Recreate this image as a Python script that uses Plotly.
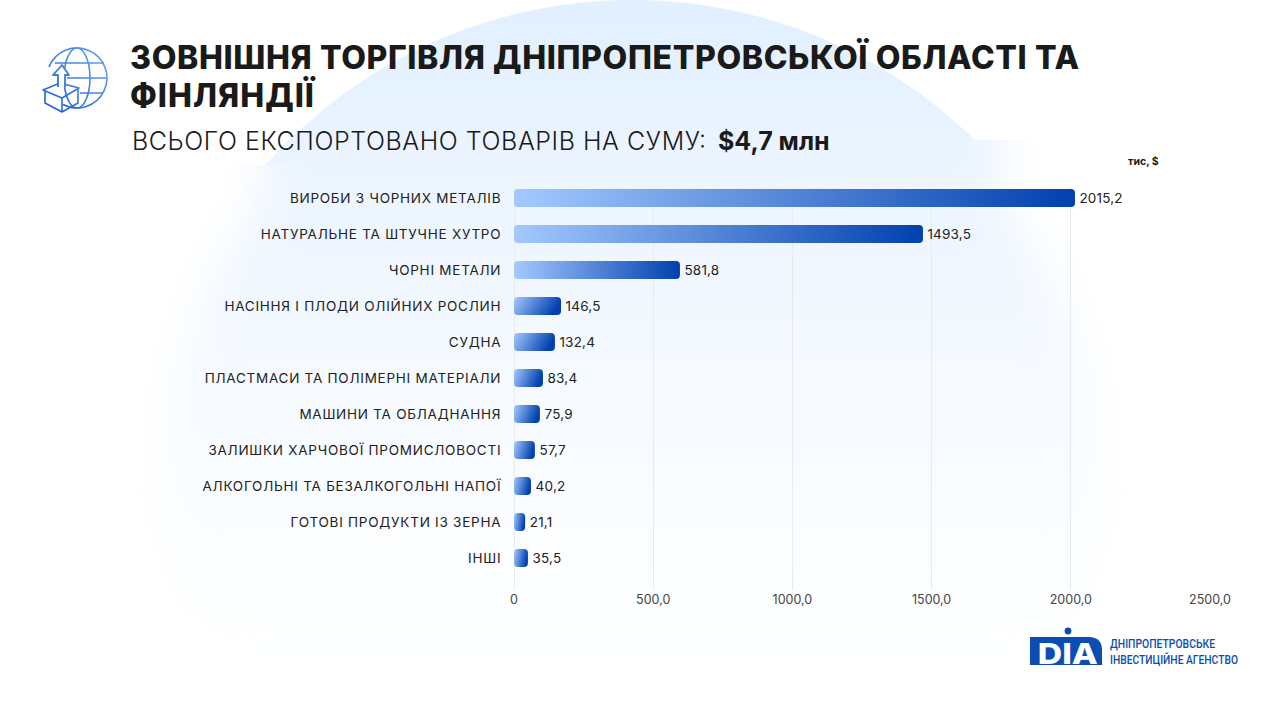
import base64
import plotly.graph_objects as go

categories = ["ВИРОБИ З ЧОРНИХ МЕТАЛІВ", "НАТУРАЛЬНЕ ТА ШТУЧНЕ ХУТРО", "ЧОРНІ МЕТАЛИ",
              "НАСІННЯ І ПЛОДИ ОЛІЙНИХ РОСЛИН", "СУДНА", "ПЛАСТМАСИ ТА ПОЛІМЕРНІ МАТЕРІАЛИ",
              "МАШИНИ ТА ОБЛАДНАННЯ", "ЗАЛИШКИ ХАРЧОВОЇ ПРОМИСЛОВОСТІ",
              "АЛКОГОЛЬНІ ТА БЕЗАЛКОГОЛЬНІ НАПОЇ", "ГОТОВІ ПРОДУКТИ ІЗ ЗЕРНА", "ІНШІ"]
value_labels = ["2015,2", "1493,5", "581,8", "146,5", "132,4", "83,4", "75,9", "57,7", "40,2", "21,1", "35,5"]
# bar lengths as drawn in the picture
drawn_lengths = [2015, 1469, 596, 169, 147, 104, 93, 75, 61, 40, 50]
tick_values = [0, 500, 1000, 1500, 2000, 2500]
tick_labels = ["0", "500,0", "1000,0", "1500,0", "2000,0", "2500,0"]

FONT = "Inter"
L, R, T, B = 514, 1210, 186, 590
PW, PH = R - L, B - T
def px(x): return (x - L) / PW
def py(y): return 1 - (y - T) / PH

bg_svg = """<svg xmlns="http://www.w3.org/2000/svg" width="1280" height="720" viewBox="0 0 1280 720">
<defs>
<linearGradient id="bg" gradientUnits="userSpaceOnUse" x1="0" y1="0" x2="0" y2="690">
<stop offset="0" stop-color="#e1efff"/><stop offset="0.22" stop-color="#ebf4ff"/>
<stop offset="0.5" stop-color="#f4f9ff"/><stop offset="0.78" stop-color="#fbfdff"/><stop offset="1" stop-color="#ffffff"/>
</linearGradient>
<linearGradient id="ic" gradientUnits="userSpaceOnUse" x1="44" y1="110" x2="108" y2="50">
<stop offset="0" stop-color="#1a5ccf"/><stop offset="1" stop-color="#68a4f6"/>
</linearGradient>
<filter id="blur" x="-20%" y="-20%" width="140%" height="140%"><feGaussianBlur stdDeviation="24"/></filter>
<clipPath id="top"><rect x="0" y="0" width="632" height="165"/><rect x="632" y="0" width="648" height="140"/></clipPath>
<clipPath id="bot"><rect x="0" y="165" width="632" height="555"/><rect x="632" y="140" width="648" height="580"/></clipPath>
</defs>
<circle cx="632" cy="490" r="490" fill="url(#bg)" clip-path="url(#top)"/>
<g clip-path="url(#bot)"><path fill="url(#bg)" filter="url(#blur)"
 d="M262 60 H1002 V200 A470 470 0 1 1 262 200 Z"/></g>
<g fill="none" stroke="url(#ic)" stroke-width="1.6" stroke-linejoin="round">
<path d="M49 67 A30 30 0 1 1 63 104.500"/>
<ellipse cx="77" cy="78" rx="13" ry="30"/>
<path d="M55 63 H104 M67 78 H107 M80 93 H103"/>
<path d="M43 90 L60 83 L79 88 L62 98 Z M45 91 V103 L62 112 L78 103 V89 M62 98 V112"/>
<path fill="#ffffff" stroke-width="1.8" d="M58 87 V75 H53 L62 65 L69 75 H65 V87"/>
</g>
<circle cx="1068" cy="631" r="3.400" fill="#0b4db3"/>
<path d="M1030 637 H1090 Q1102 638 1102 650 V665 H1030 Z" fill="#0b4db3"/>
</svg>"""
bg_uri = "data:image/svg+xml;base64," + base64.b64encode(bg_svg.encode()).decode()

fig = go.Figure(go.Bar(
    y=categories, x=drawn_lengths, orientation="h", width=0.5,
    text=value_labels, textposition="outside", cliponaxis=False,
    textfont=dict(family=FONT, size=13.5, color="#222222"),
    marker=dict(color="#4d82de", cornerradius=4, line=dict(width=0)),
    hoverinfo="skip",
))

def note(text, x, y, size, weight=400, color="#1a1a1a", anchor="left", family=FONT):
    return dict(text=text, x=px(x), y=py(y), xref="paper", yref="paper", xanchor=anchor, yanchor="middle",
                showarrow=False, align=anchor, borderpad=0,
                font=dict(family=family, size=size, color=color, weight=weight))

annotations = [
    note("ЗОВНІШНЯ ТОРГІВЛЯ ДНІПРОПЕТРОВСЬКОЇ ОБЛАСТІ ТА", 129, 58, 32, 800),
    note("ФІНЛЯНДІЇ", 129, 95, 32, 800),
    note("ВСЬОГО ЕКСПОРТОВАНО ТОВАРІВ НА СУМУ:", 131, 141, 25, 300),
    note("$4,7 млн", 717, 141, 25, 700),
    note("тис, $", 1160, 162, 10.5, 700, anchor="right"),
    note("DIA", 1068, 653, 29, 800, color="#ffffff", anchor="center"),
    note("ДНІПРОПЕТРОВСЬКЕ", 1109, 643, 13, 500, color="#0b4db3", family="Roboto"),
    note("ІНВЕСТИЦІЙНЕ АГЕНСТВО", 1109, 659, 13, 500, color="#0b4db3", family="Roboto"),
]

fig.update_layout(
    width=1280, height=720, autosize=False,
    margin=dict(l=L, r=1280 - R, t=T, b=720 - B, pad=0),
    paper_bgcolor="#ffffff", plot_bgcolor="rgba(0,0,0,0)",
    showlegend=False, annotations=annotations,
    images=[dict(source=bg_uri, xref="paper", yref="paper", x=px(0), y=py(0),
                 sizex=1280 / PW, sizey=720 / PH, sizing="stretch", xanchor="left", yanchor="top", layer="below")],
    xaxis=dict(range=[0, 2500], tickvals=tick_values, ticktext=tick_labels, showgrid=True,
               gridcolor="#e7ebf1", gridwidth=1, zeroline=True, zerolinecolor="#e7ebf1", zerolinewidth=1,
               showline=False, ticks="", tickfont=dict(family=FONT, size=12.5, color="#444444")),
    yaxis=dict(type="category", categoryorder="array", categoryarray=categories, range=[10.889, -0.333],
               showgrid=False, zeroline=False, showline=False, ticks="outside", ticklen=9,
               tickcolor="rgba(0,0,0,0)", tickfont=dict(family=FONT, size=13.5, color="#222222")),
)

post = """
document.body.style.margin = '0';
var gd = document.getElementById('{plot_id}');
var lengths = {
  'ЗОВНІШНЯ ТОРГІВЛЯ ДНІПРОПЕТРОВСЬКОЇ ОБЛАСТІ ТА': [949, 'spacing'],
  'ФІНЛЯНДІЇ': [184, 'spacing'],
  'ВСЬОГО ЕКСПОРТОВАНО ТОВАРІВ НА СУМУ:': [574, 'spacing'],
  'DIA': [60, 'spacingAndGlyphs'],
  'ДНІПРОПЕТРОВСЬКЕ': [105, 'spacingAndGlyphs'],
  'ІНВЕСТИЦІЙНЕ АГЕНСТВО': [128, 'spacingAndGlyphs']
};
function grad(svg, id, y2) {
  if (document.getElementById(id)) return;
  var ns = 'http://www.w3.org/2000/svg';
  var defs = svg.querySelector('defs') || svg.appendChild(document.createElementNS(ns, 'defs'));
  var g = document.createElementNS(ns, 'linearGradient');
  g.setAttribute('id', id);
  g.setAttribute('x1', '0'); g.setAttribute('y1', '0'); g.setAttribute('x2', '1'); g.setAttribute('y2', y2);
  [['0', '#a4c9ff'], ['1', '#0140ae']].forEach(function (s) {
    var st = document.createElementNS(ns, 'stop');
    st.setAttribute('offset', s[0]); st.setAttribute('stop-color', s[1]); g.appendChild(st);
  });
  defs.appendChild(g);
}
function paint() {
  var svg = gd.querySelector('.main-svg');
  grad(svg, 'barGradH', '0');
  grad(svg, 'barGradD', '0.25');
  gd.querySelectorAll('.bars .point path').forEach(function (p) {
    var b = p.getBBox(), r = Math.min(4, b.width / 2), x = b.x, y = b.y, w = b.width, h = b.height;
    // plotly rounds only the far end of a bar: the reference rounds both ends
    p.setAttribute('d', 'M' + (x + r) + ',' + y + 'H' + (x + w - r) + 'A' + r + ',' + r + ' 0 0 1 ' + (x + w) + ',' + (y + r) +
      'V' + (y + h - r) + 'A' + r + ',' + r + ' 0 0 1 ' + (x + w - r) + ',' + (y + h) +
      'H' + (x + r) + 'A' + r + ',' + r + ' 0 0 1 ' + x + ',' + (y + h - r) +
      'V' + (y + r) + 'A' + r + ',' + r + ' 0 0 1 ' + (x + r) + ',' + y + 'Z');
    p.style.setProperty('fill', w < 100 ? 'url(#barGradD)' : 'url(#barGradH)');
  });
  gd.querySelectorAll('.annotation-text').forEach(function (t) {
    var l = lengths[t.textContent];
    if (l) { t.setAttribute('textLength', l[0]); t.setAttribute('lengthAdjust', l[1]); }
  });
  gd.querySelectorAll('.ytick text').forEach(function (t) { t.style.letterSpacing = '0.75px'; });
  gd.querySelectorAll('.bars .point text').forEach(function (t) {
    t.setAttribute('dx', '2'); t.style.letterSpacing = '0.2px';
  });
}
paint();
gd.on('plotly_afterplot', paint);
"""
fig.write_html("out.html", post_script=post, config={"displayModeBar": False})
